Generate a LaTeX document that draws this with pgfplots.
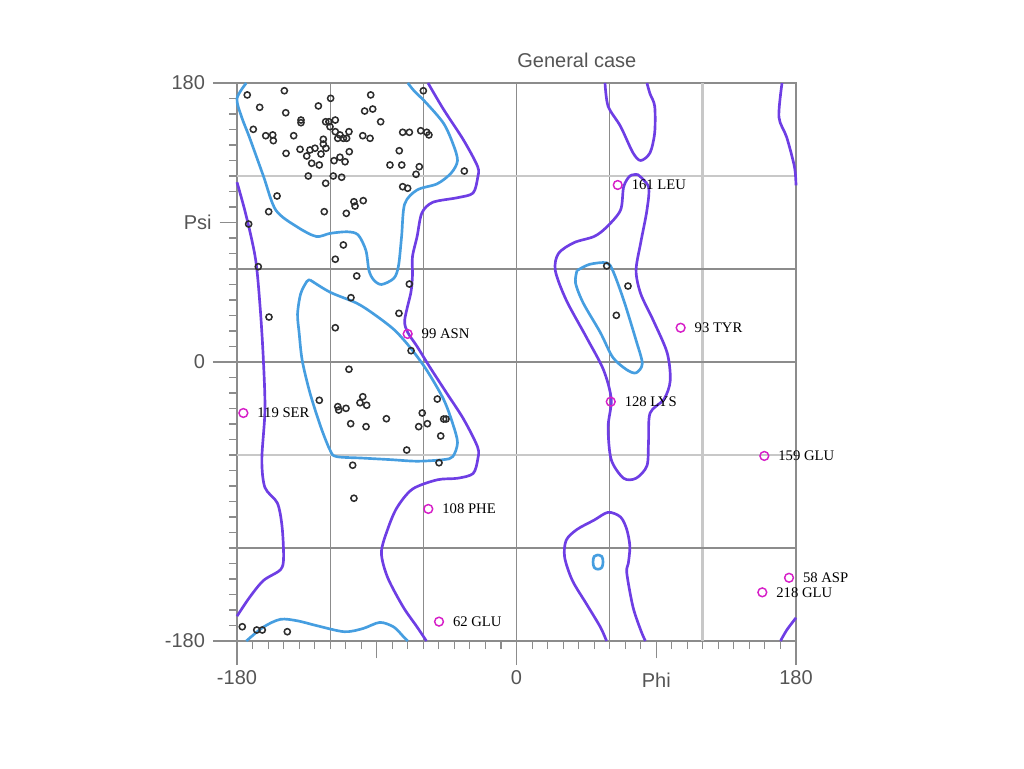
\documentclass[border=0pt]{standalone}
\usepackage{fontspec}
\setmainfont{Liberation Sans}
\newfontfamily\labfont{Liberation Serif}
\usepackage{pgfplots}
\pgfplotsset{compat=1.18}
\definecolor{fav}{RGB}{70,158,224}
\definecolor{alw}{RGB}{110,62,228}
\definecolor{outl}{RGB}{214,32,200}
\definecolor{gridc}{RGB}{140,140,140}
\definecolor{gridl}{RGB}{200,200,200}
\definecolor{tickc}{RGB}{85,85,85}
\definecolor{ptc}{RGB}{45,45,45}
\begin{document}
\begin{tikzpicture}
\path[use as bounding box] (0,0) rectangle (768pt,576pt);
\begin{axis}[
  at={(177.75pt,95.25pt)}, anchor=south west,
  scale only axis, width=419.25pt, height=418.5pt,
  xmin=-180, xmax=180, ymin=-180, ymax=180,
  clip=false,
  axis line style={gridc, line width=1.1pt},
  xtick={-180,0,180}, xticklabels={-180,0,180},
  ytick={-180,0,180}, yticklabels={-180,0,180},
  minor xtick={-170,-160,...,170},
  minor ytick={-170,-160,...,170},
  xtick pos=bottom, ytick pos=left,
  tick align=outside,
  major tick length=18pt, minor tick length=6pt,
  tick style={gridc, line width=0.8pt},
  ticklabel style={font=\fontsize{15}{15}\selectfont, text=tickc},
  xticklabel style={yshift=-0.5pt},
  yticklabel style={xshift=-2.5pt},
  extra x ticks={-90,90}, extra x tick labels={,Phi},
  extra y ticks={90}, extra y tick labels={Psi},
  extra x tick style={grid=none, major tick length=13pt, tick style={gridc, line width=0.8pt},
     tick label style={yshift=-6.75pt}},
  extra y tick style={grid=none, major tick length=13pt, tick style={gridc, line width=0.8pt}},
  title={General case},
  title style={at={(0.608,1)}, anchor=base, yshift=5.5pt, font=\fontsize{15}{15}\selectfont, text=tickc},
]
% grid lines
\addplot[gridc, line width=0.9pt, forget plot] coordinates {(-120,-180) (-120,180)};
\addplot[gridc, line width=0.9pt, forget plot] coordinates {(-60,-180) (-60,180)};
\addplot[gridc, line width=0.9pt, forget plot] coordinates {(0,-180) (0,180)};
\addplot[gridc, line width=0.9pt, forget plot] coordinates {(60,-180) (60,180)};
\addplot[gridl, line width=2.2pt, forget plot] coordinates {(120,-180) (120,180)};
\addplot[gridc, line width=0.9pt, forget plot] coordinates {(-180,60) (180,60)};
\addplot[gridc, line width=0.9pt, forget plot] coordinates {(-180,0) (180,0)};
\addplot[gridc, line width=0.9pt, forget plot] coordinates {(-180,-120) (180,-120)};
\addplot[gridl, line width=2.2pt, forget plot] coordinates {(-180,120) (180,120)};
\addplot[gridl, line width=2.2pt, forget plot] coordinates {(-180,-60) (180,-60)};

% favoured (blue) contours
\addplot[fav, line width=2pt, smooth, tension=0.5, line join=round] coordinates {
(-174,180) (-180,170) (-177,158) (-172,145) (-163,120) (-155,98) (-141,87) (-129,81) (-120,83) (-109,84) (-102,82) (-97,72) (-95,59) (-92,53) (-87,50) (-79,54) (-76,62) (-74,81) (-72,102) (-64,111) (-51,115) (-42,122) (-38,130) (-41,141) (-47,154) (-58,167) (-66,175) (-70,180)};
\addplot[fav, line width=2pt, smooth, tension=0.5] coordinates {
(-174,-180) (-163,-171) (-152,-166) (-141,-167) (-129,-170) (-111,-174) (-99,-172) (-88,-168) (-79,-171) (-73,-177) (-70,-180)};
\addplot[fav, line width=2pt, smooth, tension=0.5] coordinates {
(-133,53) (-120,45) (-103,38) (-92,31) (-79,21) (-69,10) (-58,-5) (-47,-24) (-41,-40) (-38,-52) (-41,-61) (-47,-63) (-64,-64) (-81,-63) (-99,-62) (-116,-61) (-120,-57) (-126,-42) (-133,-20) (-138,1) (-140,19) (-141,31) (-139,44) (-135,52) (-133,53)};
\addplot[fav, line width=2pt, smooth, tension=0.5] coordinates {
(39,59) (47,63) (58,64) (62,59) (69,40) (77,14) (81,-1) (77,-7) (71,-5) (62,3) (54,19) (43,38) (38,51) (39,59)};
\addplot[fav, line width=2pt, smooth, tension=0.6] coordinates {
(52.5,-124.5) (55,-125.5) (55.7,-129) (55,-132.5) (52.5,-133.7) (50,-132.5) (49.3,-129) (50,-125.5) (52.5,-124.5)};

% allowed (purple) contours
\addplot[alw, line width=2pt, smooth, tension=0.5] coordinates {
(-180,116) (-174,94) (-168,66) (-165,34) (-163,1) (-162,-31) (-164,-63) (-162,-81) (-154,-91) (-151,-106) (-150,-126) (-152,-134) (-163,-141) (-172,-152) (-180,-164)};
\addplot[alw, line width=2pt, smooth, tension=0.5] coordinates {
(-57,180) (-47,163) (-34,143) (-25,126) (-25,119) (-28,109) (-38,106) (-54,103) (-61,96) (-64,81) (-67,68) (-67,56) (-68,45) (-72,27) (-70,19) (-64,10) (-56,-3) (-45,-20) (-34,-37) (-25,-55) (-25,-63) (-28,-72) (-38,-75) (-51,-76) (-67,-82) (-77,-94) (-83,-108) (-87,-123) (-83,-139) (-73,-158) (-64,-171) (-58,-180)};
\addplot[alw, line width=2pt, smooth, tension=0.5] coordinates {
(78,121) (85,113) (84,98) (80,77) (77,59) (80,44) (88,27) (97,6) (99,-12) (95,-24) (86,-33) (85,-52) (84,-67) (77,-75) (69,-75) (61,-63) (59,-42) (61,-24) (56,-5) (45,16) (32,40) (25,59) (27,70) (37,77) (50,81) (58,87) (67,98) (69,113) (73,120) (78,121)};
\addplot[alw, line width=2pt, smooth, tension=0.5] coordinates {
(57,180) (59,165) (67,152) (75,135) (80,130) (86,135) (89,148) (89,165) (86,173) (84,180)};
\addplot[alw, line width=2pt, smooth, tension=0.5] coordinates {
(171,180) (169,158) (174,145) (179,126) (180,114)};
\addplot[alw, line width=2pt, smooth, tension=0.5] coordinates {
(170,-180) (174,-173) (180,-165)};
\addplot[alw, line width=2pt, smooth, tension=0.5] coordinates {
(58,-180) (54,-171) (45,-156) (36,-141) (31,-126) (32,-115) (39,-108) (50,-102) (59,-97) (67,-100) (71,-108) (73,-119) (72,-130) (71,-136) (75,-158) (80,-173) (83,-180)};

% residues
\addplot[only marks, mark=o, mark size=2.3pt, ptc, mark options={line width=1.15pt}] table[row sep=\\] {
phi psi\\
-173.4 172.3\\ -149.5 175.0\\ -119.7 170.1\\ -93.9 172.3\\ -60.0 175.0\\
-165.4 164.3\\ -148.6 160.8\\ -127.6 165.2\\ -97.8 161.9\\ -92.6 163.2\\
-138.8 156.1\\ -138.8 154.4\\ -122.9 155.0\\ -120.8 155.0\\ -116.7 156.1\\
-120.1 151.8\\ -87.5 155.0\\ -169.5 150.1\\ -161.5 146.0\\ -157.0 146.5\\
-156.6 142.8\\ -143.5 146.0\\ -116.7 148.6\\ -113.7 146.5\\ -115.1 144.3\\
-111.5 144.3\\ -107.9 148.6\\ -109.4 144.3\\ -99.0 146.0\\ -94.3 144.3\\
-73.3 148.2\\ -69.0 148.2\\ -61.7 149.2\\ -57.8 148.2\\ -56.4 146.5\\
-124.4 143.7\\ -124.4 140.6\\ -122.7 137.9\\ -129.8 137.9\\ -133.0 136.8\\
-139.4 137.2\\ -148.4 134.6\\ -135.1 132.9\\ -125.9 134.2\\ -107.7 135.7\\
-113.7 132.1\\ -117.5 129.9\\ -110.4 129.2\\ -131.9 128.2\\ -127.0 127.1\\
-75.5 136.3\\ -81.5 127.1\\ -73.9 127.1\\ -62.6 126.0\\ -64.7 121.1\\
-134.1 120.0\\ -118.0 120.0\\ -112.6 119.2\\ -122.9 115.3\\ -73.3 113.1\\
-70.1 112.1\\ -33.6 123.2\\ -154.2 107.1\\ -159.6 97.0\\ -123.8 97.0\\
-109.6 95.9\\ -104.7 103.4\\ -104.0 100.6\\ -98.7 104.1\\ -172.5 89.0\\
-111.5 75.5\\ -116.7 66.3\\ -166.3 61.5\\ -102.9 55.5\\ -69.0 50.3\\
-159.4 29.0\\ -106.6 41.5\\ -75.7 31.4\\ -116.7 22.1\\ -67.9 7.3\\
-107.9 -4.7\\ -127.0 -24.7\\ -115.1 -28.8\\ -114.5 -31.0\\ -109.8 -29.9\\
-99.0 -22.4\\ -100.8 -26.3\\ -96.5 -27.9\\ -51.0 -23.9\\ -60.7 -32.9\\
-46.9 -36.8\\ -45.4 -36.8\\ -83.8 -36.6\\ -106.8 -39.8\\ -96.9 -41.7\\
-63.0 -41.7\\ -57.4 -39.8\\ -48.8 -47.7\\ -70.7 -56.8\\ -49.9 -65.0\\
-105.5 -66.6\\ -104.7 -87.9\\ -176.6 -170.8\\ -167.3 -172.9\\ -163.7 -172.9\\
-147.6 -174.0\\ 58.1 62.0\\ 71.8 49.0\\ 64.3 30.1\\
};

% outliers
\addplot[only marks, mark=o, mark size=3.3pt, outl, mark options={line width=1.1pt},
  nodes near coords, point meta=explicit symbolic,
  nodes near coords style={anchor=west, xshift=10pt, inner sep=0pt, text=black,
    font=\labfont\fontsize{11}{11}\selectfont}]
  table[col sep=comma, row sep=\\, meta=label] {
phi,psi,label\\
65.2,114.2,161 LEU\\
105.7,22.1,93 TYR\\
60.7,-25.6,128 LYS\\
159.6,-60.6,159 GLU\\
175.5,-139.2,58 ASP\\
158.3,-148.6,218 GLU\\
-70.1,18.1,99 ASN\\
-175.9,-32.9,119 SER\\
-56.8,-94.8,108 PHE\\
-49.9,-167.5,62 GLU\\
};
\end{axis}
\end{tikzpicture}
\end{document}
